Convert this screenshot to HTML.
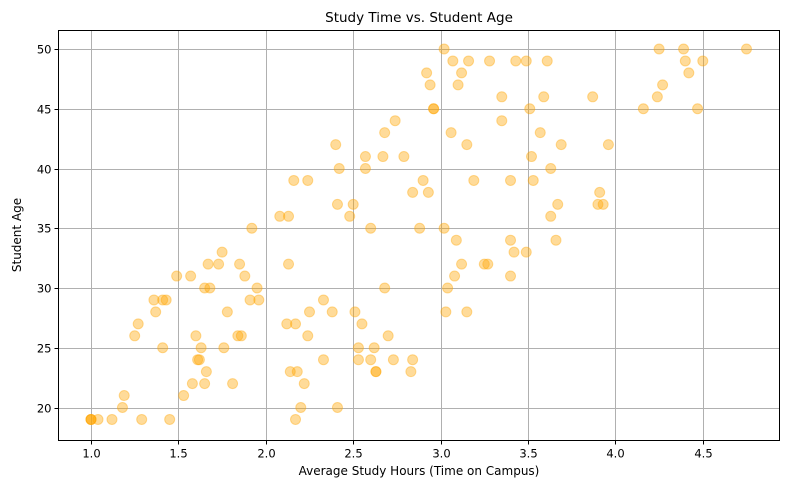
<!DOCTYPE html>
<html><head><meta charset="utf-8"><style>
body{margin:0;background:#fff;}
svg text{font-family:"DejaVu Sans","Liberation Sans",sans-serif;fill:#000;}
</style></head><body>
<svg id="chart" width="790" height="490" xmlns="http://www.w3.org/2000/svg">
<rect width="790" height="490" fill="#fff"/>
<text x="419" y="22" font-size="13.5" text-anchor="middle">Study Time vs. Student Age</text>
<g id="grid"></g>
<g id="points"></g>
<rect x="58.5" y="30.5" width="721" height="410" fill="none" stroke="#000" stroke-width="1"/>
<g id="xticks"></g>
<g id="yticks"></g>
<text x="419" y="475" font-size="12" text-anchor="middle">Average Study Hours (Time on Campus)</text>
<text x="0" y="0" font-size="12" text-anchor="middle" transform="translate(21,235) rotate(-90)">Student Age</text>
</svg>
<script>
const studyHours = [1.0,1.0,1.0,1.04,1.12,1.29,1.45,2.17,1.18,2.20,2.41,1.19,1.53,1.58,1.65,1.81,2.22,1.66,2.14,2.18,2.63,2.63,2.83,1.61,1.62,2.33,2.53,2.60,2.73,2.84,1.41,1.63,1.76,2.53,2.62,1.25,1.60,1.84,1.86,2.24,2.70,1.27,2.12,2.17,2.55,1.37,1.78,2.25,2.38,2.51,3.03,3.15,1.36,1.41,1.43,1.91,1.96,2.33,1.65,1.68,1.95,2.68,3.04,1.49,1.57,1.88,3.08,3.40,1.67,1.73,1.85,2.13,3.12,3.25,3.27,1.75,3.42,3.49,1.92,2.60,2.88,3.02,3.09,3.40,3.66,2.08,2.13,2.48,3.63,2.41,2.50,3.67,3.90,3.93,2.84,2.93,3.91,2.16,2.24,2.90,3.19,3.40,3.53,2.42,2.57,3.63,2.57,2.67,2.79,3.52,2.40,3.15,3.69,3.96,2.68,3.06,3.57,2.74,3.35,2.96,2.96,3.51,4.16,4.47,3.35,3.59,3.87,4.24,2.94,3.10,4.27,2.92,3.12,4.42,3.07,3.16,3.28,3.43,3.49,3.61,4.40,4.50,3.02,4.25,4.39,4.75];
const studentAge = [19,19,19,19,19,19,19,19,20,20,20,21,21,22,22,22,22,23,23,23,23,23,23,24,24,24,24,24,24,24,25,25,25,25,25,26,26,26,26,26,26,27,27,27,27,28,28,28,28,28,28,28,29,29,29,29,29,29,30,30,30,30,30,31,31,31,31,31,32,32,32,32,32,32,32,33,33,33,35,35,35,35,34,34,34,36,36,36,36,37,37,37,37,37,38,38,38,39,39,39,39,39,39,40,40,40,41,41,41,41,42,42,42,42,43,43,43,44,44,45,45,45,45,45,46,46,46,46,47,47,47,48,48,48,49,49,49,49,49,49,49,49,50,50,50,50];
const xTicks = [1.0,1.5,2.0,2.5,3.0,3.5,4.0,4.5];
const xTickLabels = ["1.0","1.5","2.0","2.5","3.0","3.5","4.0","4.5"];
const yTicks = [20,25,30,35,40,45,50];
const yTickLabels = ["20","25","30","35","40","45","50"];

const L=58.5,R=779.5,T=30.5,B=440.5;
function xs(v){return 91+(v-1)*174.8;}
function ys(v){return 49+(50-v)*11.95;}
const NS="http://www.w3.org/2000/svg";
function mk(tag,attrs,parent){const e=document.createElementNS(NS,tag);for(const k in attrs)e.setAttribute(k,attrs[k]);parent.appendChild(e);return e;}
const grid=document.getElementById('grid'),gx=document.getElementById('xticks'),gy=document.getElementById('yticks'),gp=document.getElementById('points');
xTicks.forEach((t,i)=>{
  const x=Math.round(xs(t))+0.5;
  const g=mk('line',{x1:x,x2:x,y1:T,y2:B,stroke:'#b0b0b0','stroke-width':1},grid);
  
  
  const tk=mk('line',{x1:x,x2:x,y1:B,y2:B+4,stroke:'#000'},gx);
  
  
  const tx=mk('text',{x:x,y:B+17,'font-size':11.5,'text-anchor':'middle'},gx);
  tx.textContent=xTickLabels[i];
  
  
});
yTicks.forEach((t,i)=>{
  const y=Math.round(ys(t))+0.5;
  const g=mk('line',{x1:L,x2:R,y1:y,y2:y,stroke:'#b0b0b0','stroke-width':1},grid);
  
  
  const tk=mk('line',{x1:L-4,x2:L,y1:y,y2:y,stroke:'#000'},gy);
  
  
  const tx=mk('text',{x:L-7,y:y+4,'font-size':11.5,'text-anchor':'end'},gy);
  tx.textContent=yTickLabels[i];
  
  
});
studyHours.forEach((h,i)=>{
  const c=mk('circle',{cx:xs(h),cy:ys(studentAge[i]),r:5,fill:'rgba(255,165,0,0.4)',stroke:'rgba(255,165,0,0.4)','stroke-width':1},gp);
  
  
});
</script>
</body></html>
